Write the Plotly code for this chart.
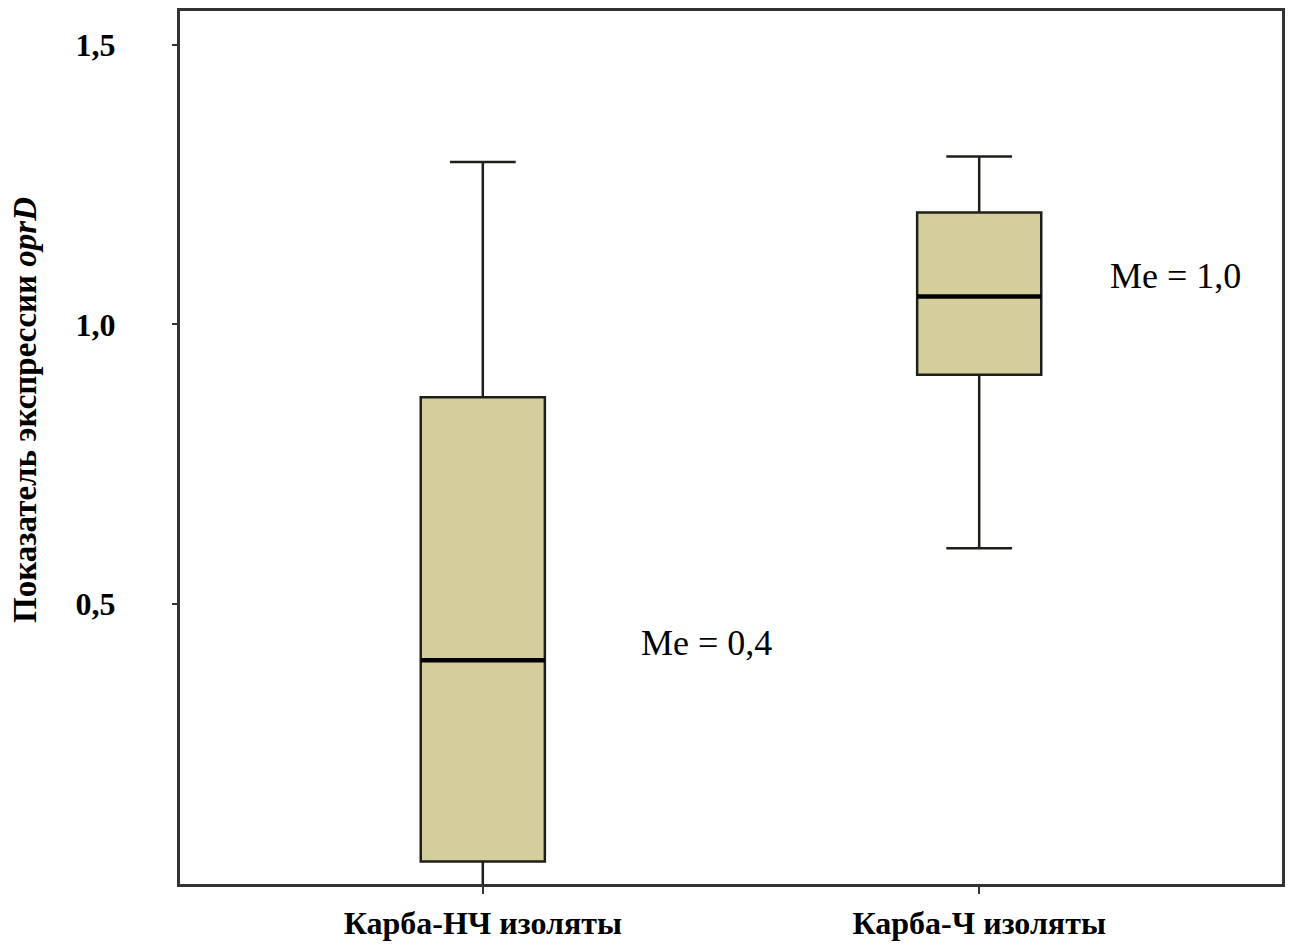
import plotly.graph_objects as go

categories = ["Карба-НЧ изоляты", "Карба-Ч изоляты"]
positions = [0, 1]
q1 = [0.04, 0.91]
median = [0.40, 1.05]
q3 = [0.87, 1.20]
lowerfence = [-0.01, 0.60]
upperfence = [1.29, 1.30]
me_labels = ["Me = 0,4", "Me = 1,0"]
me_x = [0.45, 1.395]
me_y = [0.43, 1.087]
y_ticks = [0.5, 1.0, 1.5]
y_ticktext = ["0,5", "1,0", "1,5"]

BOX_W = 0.25

fig = go.Figure()
fig.add_trace(go.Box(
    x=positions, q1=q1, median=median, q3=q3,
    lowerfence=lowerfence, upperfence=upperfence,
    fillcolor="#D4CE9C", line=dict(color="#1f1f1a", width=2.5),
    width=BOX_W, whiskerwidth=0.53, boxpoints=False, showlegend=False,
    hoverinfo="skip",
))

# thicker median lines
mx, my = [], []
for p, m in zip(positions, median):
    mx += [p - BOX_W / 2, p + BOX_W / 2, None]
    my += [m, m, None]
fig.add_trace(go.Scatter(x=mx, y=my, mode="lines",
                         line=dict(color="black", width=4.5),
                         showlegend=False, hoverinfo="skip"))

serif = "Liberation Serif, Times New Roman, serif"
for t, x, y in zip(me_labels, me_x, me_y):
    fig.add_annotation(x=x, y=y, xref="x", yref="y", text=t, showarrow=False,
                       font=dict(family=serif, size=36, color="black"))

fig.add_annotation(xref="paper", yref="paper", x=-0.1407, y=0.543,
                   xanchor="center", yanchor="middle",
                   text="<b>Показатель экспрессии <i>oprD</i></b>",
                   textangle=-90, showarrow=False,
                   font=dict(family=serif, size=33, color="black"))

fig.update_layout(
    width=1286, height=937,
    margin=dict(l=172, r=12, t=3, b=61),
    paper_bgcolor="white", plot_bgcolor="white",
    font=dict(family=serif, color="black"),
    xaxis=dict(range=[-0.61, 1.61], showgrid=False, zeroline=False,
               tickvals=positions,
               ticktext=["<b>" + c + "</b>" for c in categories],
               showline=True, linecolor="#333", linewidth=3, mirror=True,
               ticks="outside", ticklen=7, tickwidth=2, tickcolor="#333",
               ticklabelstandoff=2, automargin=False,
               tickfont=dict(family=serif, size=32, color="black")),
    yaxis=dict(range=[0, 1.56], showgrid=False, zeroline=False,
               showline=True, linecolor="#333", linewidth=3, mirror=True,
               tickvals=y_ticks, ticktext=["<b>" + t + "</b>" for t in y_ticktext],
               ticks="outside", ticklen=5, tickwidth=2, tickcolor="#333",
               ticklabelstandoff=50, automargin=False,
               tickfont=dict(family=serif, size=32, color="black")),
)

fig.write_html("out.html")
